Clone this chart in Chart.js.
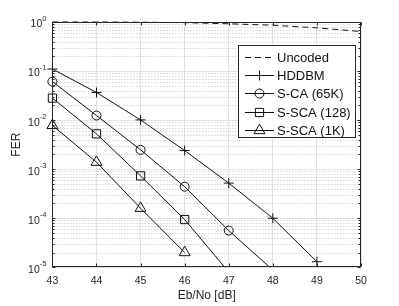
<!DOCTYPE html>
<html>
<head>
<meta charset="utf-8">
<script src="https://cdn.jsdelivr.net/npm/chart.js@4.4.0/dist/chart.umd.min.js"></script>
<style>
  html, body { margin: 0; padding: 0; background: #fff; }
  canvas { display: block; }
</style>
</head>
<body>
<canvas id="grafico" width="399" height="306"></canvas>
<script>
// valores (FER x Eb/No)
const ebNo = [43, 44, 45, 46, 47, 48, 49, 50];
const uncoded = [0.9995, 0.999, 0.99, 0.97, 0.92, 0.86, 0.76, 0.64];
const hddbm = [0.11, 0.0366, 0.0101, 0.0024, 5.2e-4, 1.0e-4, 1.3e-5];
const sca65k = [0.061, 0.0124, 0.00248, 4.4e-4, 5.6e-5, 8.8e-6];
const ssca128 = [0.0281, 0.00525, 7.3e-4, 9.4e-5, 8e-6];
const ssca1k = [0.0078, 0.00139, 1.6e-4, 2.0e-5];
const nomes = ['Uncoded', 'HDDBM', 'S-CA (65K)', 'S-SCA (128)', 'S-SCA (1K)'];
const xTicks = [43, 44, 45, 46, 47, 48, 49, 50];
const yExpoentes = [-5, -4, -3, -2, -1, 0];

const fonte = "'Liberation Sans', Arial, sans-serif";
const corEixo = '#262626';
const yMin = 1e-5, yMax = 1;

function pontos(valores) {
    return valores.map((v, i) => ({ x: ebNo[i], y: v }));
}

function serie(nome, valores, estilo, tam, tracejado) {
    return {
        label: nome,
        data: pontos(valores),
        borderColor: '#111',
        borderWidth: 1,
        borderDash: tracejado || [],
        pointStyle: estilo,
        tam: tam,
        pointRadius: c => (!estilo || (c.raw && c.raw.y < yMin)) ? 0 : tam,
        pointHoverRadius: 0,
        pointBorderColor: '#111',
        pointBorderWidth: 1,
        pointBackgroundColor: 'rgba(0,0,0,0)',
        tension: 0,
        fill: false,
        clip: { left: 8, top: 8, right: 8, bottom: 0 }
    };
}

// grade menor pontilhada, marcas internas, caixa e legenda
const eixosPlugin = {
    id: 'eixos',
    beforeDatasetsDraw(chart) {
        const { ctx, chartArea: a, scales: { y } } = chart;
        ctx.save();
        ctx.strokeStyle = '#c4c4c4';
        ctx.lineWidth = 1;
        ctx.setLineDash([1, 2]);
        yExpoentes.slice(0, -1).forEach(e => {
            for (let k = 2; k <= 9; k++) {
                const py = Math.round(y.getPixelForValue(k * Math.pow(10, e))) + 0.5;
                ctx.beginPath();
                ctx.moveTo(a.left, py);
                ctx.lineTo(a.right, py);
                ctx.stroke();
            }
        });
        ctx.restore();
    },
    afterDatasetsDraw(chart) {
        const { ctx, chartArea: a, scales: { x, y } } = chart;
        ctx.save();
        ctx.strokeStyle = corEixo;
        ctx.lineWidth = 1;
        const L = Math.round(a.left) + 0.5, R = Math.round(a.right) - 0.5;
        const T = Math.round(a.top) + 0.5, B = Math.round(a.bottom) - 0.5;
        ctx.strokeRect(L, T, R - L, B - T);
        ctx.beginPath();
        xTicks.forEach(v => {
            const px = Math.round(x.getPixelForValue(v)) + 0.5;
            ctx.moveTo(px, B); ctx.lineTo(px, B - 3);
            ctx.moveTo(px, T); ctx.lineTo(px, T + 3);
        });
        yExpoentes.forEach(e => {
            const py = Math.round(y.getPixelForValue(Math.pow(10, e))) + 0.5;
            ctx.moveTo(L, py); ctx.lineTo(L + 3, py);
            ctx.moveTo(R, py); ctx.lineTo(R - 3, py);
            if (e < 0) {
                for (let k = 2; k <= 9; k++) {
                    const pm = Math.round(y.getPixelForValue(k * Math.pow(10, e))) + 0.5;
                    ctx.moveTo(L, pm); ctx.lineTo(L + 2, pm);
                    ctx.moveTo(R, pm); ctx.lineTo(R - 2, pm);
                }
            }
        });
        ctx.stroke();

        // rotulos 10^n
        ctx.fillStyle = corEixo;
        ctx.textBaseline = 'middle';
        const dir = a.left - 6;
        yExpoentes.forEach(e => {
            const py = y.getPixelForValue(Math.pow(10, e));
            const exp = String(e);
            ctx.font = '7.5px ' + fonte;
            const we = ctx.measureText(exp).width;
            ctx.textAlign = 'left';
            ctx.fillText(exp, dir - we, py - 3);
            ctx.font = '10.5px ' + fonte;
            ctx.textAlign = 'right';
            ctx.fillText('10', dir - we, py + 2.5);
        });
        ctx.restore();
    },
    afterDraw(chart) {
        const ctx = chart.ctx;
        ctx.save();
        ctx.fillStyle = '#fff';
        ctx.strokeStyle = '#262626';
        ctx.lineWidth = 1;
        ctx.fillRect(238.5, 45.5, 117, 92);
        ctx.strokeRect(238.5, 45.5, 117, 92);
        ctx.font = '13px ' + fonte;
        ctx.textBaseline = 'middle';
        ctx.textAlign = 'left';
        chart.data.datasets.forEach((ds, i) => {
            const py = Math.round(56.5 + i * 18.4) + 0.5;
            ctx.strokeStyle = '#111';
            ctx.setLineDash(ds.borderDash);
            ctx.beginPath();
            ctx.moveTo(245, py);
            ctx.lineTo(274, py);
            ctx.stroke();
            ctx.setLineDash([]);
            if (ds.pointStyle) {
                ctx.fillStyle = 'rgba(0,0,0,0)';
                Chart.helpers.drawPoint(ctx, { pointStyle: ds.pointStyle, radius: ds.tam, borderWidth: 1, rotation: 0 }, 259.5, py);
            }
            ctx.fillStyle = '#111';
            ctx.fillText(ds.label, 277, py + 0.5);
        });
        ctx.restore();
    }
};

const ctx = document.getElementById('grafico').getContext('2d');
const grafico = new Chart(ctx, {
    type: 'line',
    data: {
        datasets: [
            serie(nomes[0], uncoded, false, 0, [6, 4]),
            serie(nomes[1], hddbm, 'cross', 5),
            serie(nomes[2], sca65k, 'circle', 4.5),
            serie(nomes[3], ssca128, 'rect', 5.8),
            serie(nomes[4], ssca1k, 'triangle', 6.3)
        ]
    },
    options: {
        responsive: false,
        animation: false,
        devicePixelRatio: 1,
        layout: { padding: { top: 22, right: 38, left: 0, bottom: 0 } },
        plugins: { legend: { display: false }, tooltip: { enabled: false } },
        scales: {
            x: {
                type: 'linear',
                min: 43,
                max: 50,
                afterBuildTicks: s => { s.ticks = xTicks.map(v => ({ value: v })); },
                ticks: { font: { family: fonte, size: 10.5 }, color: corEixo, padding: 7.5, maxRotation: 0 },
                grid: { color: '#e3e3e3', drawTicks: false },
                border: { display: false },
                title: {
                    display: true, text: 'Eb/No [dB]', color: corEixo,
                    font: { family: fonte, size: 12, lineHeight: 0.1 }, padding: { top: 0, bottom: 9.9 }
                }
            },
            y: {
                type: 'logarithmic',
                min: yMin,
                max: yMax,
                afterBuildTicks: s => { s.ticks = yExpoentes.map(e => ({ value: Math.pow(10, e), major: true })); },
                ticks: { display: false },
                grid: { color: '#e3e3e3', drawTicks: false },
                border: { display: false },
                title: {
                    display: true, text: 'FER', color: corEixo,
                    font: { family: fonte, size: 12 }, padding: { top: 9, bottom: 29 }
                }
            }
        }
    },
    plugins: [eixosPlugin]
});
</script>
</body>
</html>
